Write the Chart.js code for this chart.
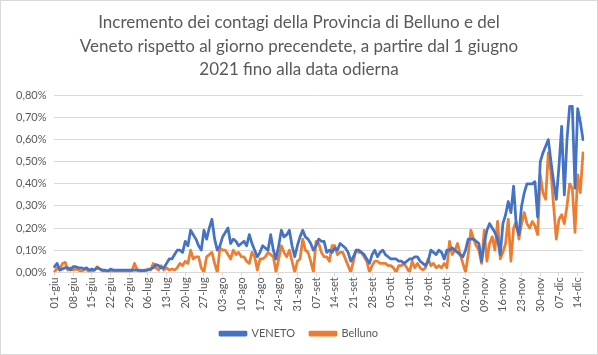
<!DOCTYPE html>
<html>
<head>
<meta charset="utf-8">
<script src="https://cdn.jsdelivr.net/npm/chart.js@4/dist/chart.umd.min.js"></script>
<style>
  html, body { margin: 0; padding: 0; background: #fff; }
  #wrap { width: 598px; height: 355px; box-sizing: border-box; border: 1px solid #d9d9d9; position: relative; }
  canvas { display: block; }
</style>
</head>
<body>
<div id="wrap"><canvas id="c" width="596" height="353"></canvas></div>
<script>
const categories = [
  "01-giu","02-giu","03-giu","04-giu","05-giu","06-giu","07-giu","08-giu","09-giu","10-giu",
  "11-giu","12-giu","13-giu","14-giu","15-giu","16-giu","17-giu","18-giu","19-giu","20-giu",
  "21-giu","22-giu","23-giu","24-giu","25-giu","26-giu","27-giu","28-giu","29-giu","30-giu",
  "01-lug","02-lug","03-lug","04-lug","05-lug","06-lug","07-lug","08-lug","09-lug","10-lug",
  "11-lug","12-lug","13-lug","14-lug","15-lug","16-lug","17-lug","18-lug","19-lug","20-lug",
  "21-lug","22-lug","23-lug","24-lug","25-lug","26-lug","27-lug","28-lug","29-lug","30-lug",
  "31-lug","01-ago","02-ago","03-ago","04-ago","05-ago","06-ago","07-ago","08-ago","09-ago",
  "10-ago","11-ago","12-ago","13-ago","14-ago","15-ago","16-ago","17-ago","18-ago","19-ago",
  "20-ago","21-ago","22-ago","23-ago","24-ago","25-ago","26-ago","27-ago","28-ago","29-ago",
  "30-ago","31-ago","01-set","02-set","03-set","04-set","05-set","06-set","07-set","08-set",
  "09-set","10-set","11-set","12-set","13-set","14-set","15-set","16-set","17-set","18-set",
  "19-set","20-set","21-set","22-set","23-set","24-set","25-set","26-set","27-set","28-set",
  "29-set","30-set","01-ott","02-ott","03-ott","04-ott","05-ott","06-ott","07-ott","08-ott",
  "09-ott","10-ott","11-ott","12-ott","13-ott","14-ott","15-ott","16-ott","17-ott","18-ott",
  "19-ott","20-ott","21-ott","22-ott","23-ott","24-ott","25-ott","26-ott","27-ott","28-ott",
  "29-ott","30-ott","31-ott","01-nov","02-nov","03-nov","04-nov","05-nov","06-nov","07-nov",
  "08-nov","09-nov","10-nov","11-nov","12-nov","13-nov","14-nov","15-nov","16-nov","17-nov",
  "18-nov","19-nov","20-nov","21-nov","22-nov","23-nov","24-nov","25-nov","26-nov","27-nov",
  "28-nov","29-nov","30-nov","01-dic","02-dic","03-dic","04-dic","05-dic","06-dic","07-dic",
  "08-dic","09-dic","10-dic","11-dic","12-dic","13-dic","14-dic","15-dic","16-dic"
];

const tickLabels = [
  "01-giu","08-giu","15-giu","22-giu","29-giu","06-lug","13-lug","20-lug","27-lug","03-ago",
  "10-ago","17-ago","24-ago","31-ago","07-set","14-set","21-set","28-set","05-ott","12-ott",
  "19-ott","26-ott","02-nov","09-nov","16-nov","23-nov","30-nov","07-dic","14-dic"
];

// values in percent
const veneto = [
  0.025,0.04,0.01,0.015,0.02,0.02,0.01,
  0.025,0.025,0.02,0.02,0.015,0.02,0.01,
  0.015,0.01,0.02,0.015,0.01,0.01,0.005,
  0.015,0.01,0.01,0.01,0.01,0.01,0.01,
  0.01,0.01,0.01,0.01,0.01,0.005,0.01,
  0.01,0.015,0.02,0.035,0.03,0.02,0.02,
  0.04,0.06,0.06,0.08,0.10,0.10,0.09,
  0.14,0.12,0.19,0.17,0.15,0.12,0.10,
  0.19,0.15,0.20,0.24,0.15,0.10,0.12,
  0.16,0.18,0.20,0.13,0.15,0.14,0.12,
  0.13,0.14,0.12,0.17,0.13,0.10,0.07,
  0.09,0.12,0.11,0.10,0.17,0.10,0.06,
  0.12,0.19,0.16,0.17,0.19,0.12,0.07,
  0.12,0.16,0.19,0.16,0.15,0.13,0.10,
  0.12,0.15,0.14,0.14,0.09,0.10,0.09,
  0.11,0.10,0.13,0.12,0.11,0.09,0.05,
  0.07,0.10,0.10,0.09,0.08,0.06,0.04,
  0.08,0.10,0.07,0.09,0.10,0.08,0.07,
  0.06,0.06,0.06,0.05,0.05,0.04,0.05,
  0.06,0.06,0.07,0.07,0.05,0.04,0.03,
  0.05,0.10,0.09,0.08,0.10,0.09,0.06,
  0.10,0.10,0.11,0.10,0.09,0.08,0.07,
  0.10,0.15,0.15,0.15,0.14,0.13,0.05,
  0.13,0.19,0.22,0.20,0.18,0.15,0.08,
  0.22,0.26,0.32,0.27,0.39,0.21,0.17,
  0.30,0.36,0.40,0.40,0.40,0.41,0.25,
  0.50,0.54,0.57,0.60,0.50,0.41,0.33,
  0.48,0.66,0.35,0.60,0.75,0.75,0.38,
  0.74,0.68,0.60
];

const belluno = [
  0.00,0.02,0.01,0.04,0.045,0.01,0.02,
  0.01,0.015,0.01,0.005,0.01,0.015,0.00,
  0.005,0.01,0.025,0.015,0.005,0.00,0.00,
  0.00,0.005,0.00,0.00,0.00,0.00,0.00,
  0.00,0.005,0.04,0.01,0.00,0.01,0.005,
  0.015,0.01,0.04,0.02,0.01,0.03,0.01,
  0.02,0.01,0.015,0.01,0.02,0.04,0.03,
  0.05,0.04,0.10,0.06,0.07,0.07,0.02,
  0.00,0.07,0.08,0.09,0.04,0.00,0.11,
  0.10,0.10,0.08,0.06,0.10,0.08,0.09,
  0.07,0.07,0.05,0.04,0.09,0.07,0.01,
  0.06,0.06,0.07,0.09,0.08,0.07,0.00,
  0.06,0.12,0.09,0.07,0.10,0.05,0.00,
  0.05,0.06,0.15,0.10,0.09,0.05,0.00,
  0.14,0.13,0.09,0.07,0.07,0.05,0.12,
  0.12,0.08,0.09,0.09,0.06,0.03,0.00,
  0.05,0.10,0.09,0.09,0.07,0.05,0.00,
  0.03,0.05,0.05,0.04,0.04,0.04,0.03,
  0.03,0.02,0.00,0.03,0.03,0.04,0.02,
  0.00,0.05,0.02,0.04,0.02,0.01,0.02,
  0.06,0.03,0.04,0.02,0.03,0.02,0.04,
  0.02,0.14,0.08,0.10,0.13,0.08,0.04,
  0.00,0.08,0.19,0.15,0.12,0.10,0.04,
  0.19,0.05,0.13,0.16,0.10,0.23,0.06,
  0.09,0.13,0.24,0.05,0.20,0.23,0.15,
  0.22,0.27,0.22,0.20,0.23,0.21,0.17,
  0.44,0.36,0.33,0.54,0.45,0.30,0.15,
  0.24,0.26,0.22,0.30,0.40,0.38,0.18,
  0.44,0.36,0.54
];

const titleLines = [
  "Incremento dei contagi della Provincia di Belluno e del",
  "Veneto rispetto al giorno precendete, a partire dal 1 giugno",
  "2021 fino alla data odierna"
];

const FONT = "Lato, 'Open Sans', sans-serif";
const GREY = "#595959";

new Chart(document.getElementById('c'), {
  type: 'line',
  data: {
    labels: categories,
    datasets: [
      { label: 'VENETO', data: veneto, borderColor: '#4472C4', backgroundColor: '#4472C4',
        borderWidth: 2.75, pointRadius: 0, tension: 0, borderJoinStyle: 'round', borderCapStyle: 'round' },
      { label: 'Belluno', data: belluno, borderColor: '#ED7D31', backgroundColor: '#ED7D31',
        borderWidth: 2.75, pointRadius: 0, tension: 0, borderJoinStyle: 'round', borderCapStyle: 'round' }
    ]
  },
  options: {
    responsive: false,
    animation: false,
    layout: { padding: { left: 4, right: 4, top: 8, bottom: 5 } },
    plugins: {
      title: {
        display: true, text: titleLines, color: GREY,
        font: { family: FONT, size: 17, weight: 'normal', lineHeight: 1.38 },
        padding: { top: 2, bottom: 14 }
      },
      legend: {
        position: 'bottom',
        labels: { color: GREY, font: { family: FONT, size: 11 }, boxWidth: 26, boxHeight: 3, padding: 15 }
      },
      tooltip: { enabled: false }
    },
    scales: {
      x: {
        afterFit: s => { s.paddingRight = 14; },
        grid: { display: true, drawOnChartArea: false, drawTicks: true, tickLength: 4, color: '#d9d9d9' },
        border: { color: '#d9d9d9' },
        ticks: {
          autoSkip: false, maxRotation: 90, minRotation: 90, color: GREY, padding: 1,
          font: { family: FONT, size: 11 },
          callback: function(v, i) {
            const lab = categories[i];
            return tickLabels.includes(lab) ? lab : null;
          }
        }
      },
      y: {
        min: 0, max: 0.8,
        afterFit: s => { s.width += 3; },
        grid: { color: '#d9d9d9', drawTicks: false },
        border: { display: false },
        ticks: {
          stepSize: 0.1, color: GREY, padding: 8,
          font: { family: FONT, size: 11 },
          callback: v => v.toFixed(2).replace('.', ',') + '%'
        }
      }
    }
  }
});
</script>
</body>
</html>
